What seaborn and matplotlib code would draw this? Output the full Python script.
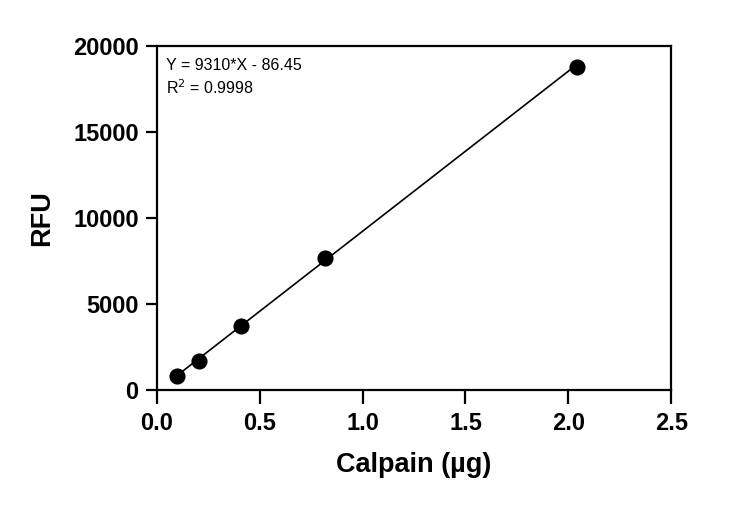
import numpy as np
import pandas as pd
import matplotlib
matplotlib.use("Agg")
import matplotlib.pyplot as plt
import seaborn as sns

# calpain standard curve
calpain_ug = [0.10, 0.205, 0.408, 0.817, 2.04]
rfu = [820, 1675, 3720, 7640, 18800]
slope = 9310
intercept = -86.45
r_squared = 0.9998
x_ticks = [0.0, 0.5, 1.0, 1.5, 2.0, 2.5]
y_ticks = [0, 5000, 10000, 15000, 20000]

sns.set_style("ticks")
plt.rcParams['font.family'] = ['Liberation Sans', 'DejaVu Sans']
plt.rcParams['text.color'] = 'black'
plt.rcParams['axes.labelcolor'] = 'black'
plt.rcParams['xtick.color'] = 'black'
plt.rcParams['ytick.color'] = 'black'

df = pd.DataFrame({'x': calpain_ug, 'y': rfu})
fit = pd.DataFrame({'x': [calpain_ug[0], calpain_ug[-1]]})
fit['y'] = slope * fit['x'] + intercept

fig = plt.figure(figsize=(7.5, 5.05), dpi=100)
ax = fig.add_axes([0.209, 0.228, 0.686, 0.681])

sns.lineplot(data=fit, x='x', y='y', color='black', linewidth=1.2, ax=ax)
sns.scatterplot(data=df, x='x', y='y', color='black', s=135,
                edgecolor='black', linewidth=0, zorder=3, ax=ax)

ax.set_xlim(0, 2.5)
ax.set_ylim(0, 20000)
ax.set_xticks(x_ticks)
ax.set_yticks(y_ticks)
ax.set_xticklabels([f"{v:.1f}" for v in x_ticks])
ax.set_yticklabels([str(v) for v in y_ticks])

for s in ax.spines.values():
    s.set_linewidth(1.6)
    s.set_color('black')
ax.tick_params(axis='both', width=1.6, color='black',
               labelcolor='black', labelsize=17)
ax.tick_params(axis='x', length=10, pad=6)
ax.tick_params(axis='y', length=8, pad=5)
for lbl in ax.get_xticklabels() + ax.get_yticklabels():
    lbl.set_fontweight('bold')

ax.set_xlabel("Calpain (µg)", fontsize=19.5, fontweight='bold', labelpad=12)
ax.set_ylabel("RFU", fontsize=19.5, fontweight='bold', labelpad=13)

ax.text(0.018, 0.93, f"Y = {slope}*X - {abs(intercept)}",
        transform=ax.transAxes, fontsize=11.5, va='baseline', ha='left')
ax.text(0.018, 0.86, f"R$^2$ = {r_squared}",
        transform=ax.transAxes, fontsize=11.5, va='baseline', ha='left')

fig.savefig("out.png", dpi=100)
